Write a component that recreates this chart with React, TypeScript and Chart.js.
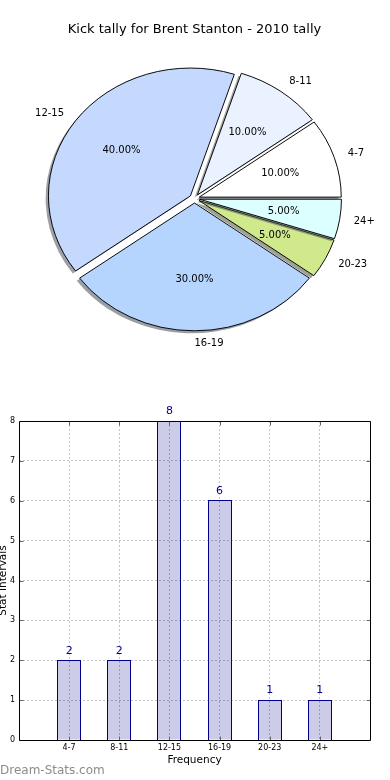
import React, { useEffect, useRef } from 'react';
import { Chart, registerables } from 'chart.js';

Chart.register(...registerables);

const FONT = '"DejaVu Sans", sans-serif';

// ---------- data ----------
const TITLE = 'Kick tally for Brent Stanton - 2010 tally';
const CATEGORIES = ['4-7', '8-11', '12-15', '16-19', '20-23', '24+'];
const COUNTS = [2, 2, 8, 6, 1, 1];
const PIE_COLORS = ['#ffffff', '#eaf2ff', '#c5d9ff', '#b5d5ff', '#d0e98c', '#dcffff'];
const X_TITLE = 'Frequency';
const Y_TITLE = 'Stat Intervals';
const WATERMARK = 'Dream-Stats.com';
const BAR_X_RANGE = [0, 7];
const BAR_Y_RANGE = [0, 8];

// ---------- style constants ----------
const PIE_RADIUS = 142;
const PIE_SY = 0.9; // vertical squash (non-equal aspect)
const EXPLODE_PX = 5;
const SHADOW = 0.02;
const BAR_FILL = 'rgba(0,0,139,0.2)';
const BAR_EDGE = '#00008b';
const GRID = '#c4c4c4';

function shade(hex: string) {
  const n = parseInt(hex.slice(1), 16);
  const r = (n >> 16) & 255, g = (n >> 8) & 255, b = n & 255;
  return `rgba(${Math.round(r * 0.3)},${Math.round(g * 0.3)},${Math.round(b * 0.3)},0.5)`;
}

const pieDrawPlugin = {
  id: 'pieDraw',
  beforeDatasetsDraw(chart: any) {
    const ctx = chart.ctx;
    const arcs = chart.getDatasetMeta(0).data;
    if (!arcs.length) return false;
    const cx = arcs[0].x, cy = arcs[0].y;
    ctx.save();
    ctx.translate(cx, cy);
    ctx.scale(1, PIE_SY);
    ctx.translate(-cx, -cy);
    for (let i = arcs.length - 1; i >= 0; i--) {
      const arc = arcs[i];
      const { startAngle, endAngle, outerRadius, x, y } = arc;
      const mid = (startAngle + endAngle) / 2;
      const dx = Math.cos(mid) * EXPLODE_PX, dy = Math.sin(mid) * EXPLODE_PX;
      // shadow
      ctx.save();
      ctx.translate(dx - SHADOW * outerRadius, dy + SHADOW * outerRadius);
      ctx.beginPath();
      ctx.moveTo(x, y);
      ctx.arc(x, y, outerRadius, startAngle, endAngle);
      ctx.closePath();
      ctx.fillStyle = shade(arc.options.backgroundColor);
      ctx.fill();
      ctx.restore();
      // wedge
      ctx.save();
      ctx.translate(dx, dy);
      arc.draw(ctx);
      ctx.restore();
    }
    ctx.restore();
    return false;
  },
  afterDraw(chart: any) {
    const ctx = chart.ctx;
    const arcs = chart.getDatasetMeta(0).data;
    const labels = chart.data.labels;
    const values = chart.data.datasets[0].data;
    const total = values.reduce((a: number, b: number) => a + b, 0);
    ctx.save();
    ctx.font = `10px ${FONT}`;
    ctx.fillStyle = '#000';
    ctx.textBaseline = 'middle';
    arcs.forEach((arc: any, i: number) => {
      const { startAngle, endAngle, outerRadius: R, x, y } = arc;
      const mid = (startAngle + endAngle) / 2;
      const c = Math.cos(mid), s = Math.sin(mid);
      const ex = x + c * EXPLODE_PX, ey = y + s * EXPLODE_PX * PIE_SY;
      ctx.textAlign = c >= -1e-6 ? 'left' : 'right';
      ctx.fillText(labels[i], ex + c * 1.1 * R, ey + s * 1.1 * R * PIE_SY);
      ctx.textAlign = 'center';
      ctx.fillText(((values[i] / total) * 100).toFixed(2) + '%', ex + c * 0.6 * R, ey + s * 0.6 * R * PIE_SY);
    });
    ctx.restore();
  },
};

const barDecorPlugin = {
  id: 'barDecor',
  afterDatasetsDraw(chart: any) {
    // crisp bar edges
    const ctx = chart.ctx;
    const meta = chart.getDatasetMeta(0);
    ctx.save();
    ctx.strokeStyle = BAR_EDGE;
    ctx.lineWidth = 1;
    meta.data.forEach((bar: any) => {
      const l = Math.floor(bar.x - bar.width / 2) + 0.5;
      const r = Math.ceil(bar.x + bar.width / 2) - 0.5;
      const t = Math.floor(bar.y) + 0.5;
      const b = Math.round(bar.base) + 0.5;
      ctx.strokeRect(l, t, r - l, b - t);
    });
    ctx.restore();
  },
  afterDraw(chart: any) {
    const ctx = chart.ctx;
    const { left, right, top, bottom } = chart.chartArea;
    const xs = chart.scales.x, ys = chart.scales.y;
    const L = Math.round(left) + 0.5, Rr = Math.round(right) + 0.5;
    const T = Math.round(top) + 0.5, B = Math.round(bottom) + 0.5;
    ctx.save();
    // inward ticks
    ctx.strokeStyle = '#666';
    ctx.lineWidth = 1;
    ctx.beginPath();
    for (let v = BAR_X_RANGE[0] + 1; v < BAR_X_RANGE[1]; v++) {
      const px = Math.round(xs.getPixelForValue(v)) + 0.5;
      ctx.moveTo(px, B); ctx.lineTo(px, B - 4);
      ctx.moveTo(px, T); ctx.lineTo(px, T + 4);
    }
    for (let v = BAR_Y_RANGE[0] + 1; v < BAR_Y_RANGE[1]; v++) {
      const py = Math.round(ys.getPixelForValue(v)) + 0.5;
      ctx.moveTo(L, py); ctx.lineTo(L + 4, py);
      ctx.moveTo(Rr, py); ctx.lineTo(Rr - 4, py);
    }
    ctx.stroke();
    // full frame
    ctx.strokeStyle = '#000';
    ctx.beginPath();
    ctx.rect(L, T, Rr - L, B - T);
    ctx.stroke();
    // value labels
    const meta = chart.getDatasetMeta(0);
    ctx.font = `11px ${FONT}`;
    ctx.fillStyle = BAR_EDGE;
    ctx.textAlign = 'center';
    ctx.textBaseline = 'middle';
    meta.data.forEach((bar: any, i: number) => {
      ctx.fillText(String(COUNTS[i]), bar.x, bar.y - 9.5);
    });
    ctx.restore();
  },
};

function pieConfig(): any {
  return {
    type: 'pie',
    data: {
      labels: [...CATEGORIES].reverse(),
      datasets: [{
        data: [...COUNTS].reverse(),
        backgroundColor: [...PIE_COLORS].reverse(),
        borderColor: '#000',
        borderWidth: 1,
        offset: 0,
        hoverOffset: 0,
      }],
    },
    options: {
      responsive: false,
      animation: false,
      events: [],
      rotation: 90,
      radius: PIE_RADIUS,
      layout: { padding: { left: 0, right: 1, top: 0, bottom: 30.6 } },
      plugins: {
        legend: { display: false },
        tooltip: { enabled: false },
        title: {
          display: true,
          text: TITLE,
          color: '#000',
          font: { family: FONT, size: 13, weight: 'normal' },
          padding: { top: 22, bottom: 0 },
        },
      },
    },
    plugins: [pieDrawPlugin],
  };
}

function barConfig(): any {
  const tickFont = { family: FONT, size: 8 };
  return {
    type: 'bar',
    data: {
      datasets: [{
        data: COUNTS.map((v, i) => ({ x: i + 1, y: v })),
        backgroundColor: BAR_FILL,
        borderWidth: 0,
        barPercentage: 0.46,
        categoryPercentage: 1,
      }],
    },
    options: {
      responsive: false,
      animation: false,
      events: [],
      layout: { padding: { top: 31, right: 20, left: 0, bottom: 0 } },
      plugins: {
        legend: { display: false },
        tooltip: { enabled: false },
      },
      scales: {
        x: {
          type: 'linear',
          min: BAR_X_RANGE[0],
          max: BAR_X_RANGE[1],
          offset: false,
          afterFit: (s: any) => { s.height = 40; },
          ticks: {
            stepSize: 1,
            autoSkip: false,
            maxRotation: 0,
            padding: 3,
            color: '#000',
            font: tickFont,
            callback: (v: number) => (Number.isInteger(v) && v >= 1 && v <= CATEGORIES.length ? CATEGORIES[v - 1] : ''),
          },
          grid: { color: GRID, drawTicks: false, offset: false, borderDash: [2, 2] },
          border: { display: false, dash: [2, 2] },
          title: {
            display: true,
            text: X_TITLE,
            color: '#000',
            font: { family: FONT, size: 10.5 },
            padding: { top: 0, bottom: 13.7 },
          },
        },
        y: {
          min: BAR_Y_RANGE[0],
          max: BAR_Y_RANGE[1],
          afterFit: (s: any) => { s.width = 23; },
          ticks: { stepSize: 1, padding: 4, color: '#000', font: tickFont },
          grid: { color: GRID, drawTicks: false, borderDash: [2, 2] },
          border: { display: false, dash: [2, 2] },
          title: {
            display: true,
            text: Y_TITLE,
            color: '#000',
            font: { family: FONT, size: 10.5 },
            padding: { top: 1, bottom: 0 },
          },
        },
      },
    },
    plugins: [barDecorPlugin],
  };
}

export default function App() {
  const pieRef = useRef<HTMLCanvasElement>(null);
  const barRef = useRef<HTMLCanvasElement>(null);
  useEffect(() => {
    const pie = new Chart(pieRef.current as HTMLCanvasElement, pieConfig());
    const bar = new Chart(barRef.current as HTMLCanvasElement, barConfig());
    return () => {
      pie.destroy();
      bar.destroy();
    };
  }, []);
  return (
    <div style={{ position: 'fixed', left: 0, top: 0, width: 390, height: 780, overflow: 'hidden', background: '#fff' }}>
      <canvas ref={pieRef} width={390} height={390} style={{ position: 'absolute', left: 0, top: 0, width: 390, height: 390 }} />
      <canvas ref={barRef} width={394} height={390} style={{ position: 'absolute', left: -4, top: 390, width: 394, height: 390 }} />
      <div style={{ position: 'absolute', left: 0, top: 763, font: `12px ${FONT}`, lineHeight: '14px', color: '#8c8c8c', whiteSpace: 'nowrap' }}>
        {WATERMARK}
      </div>
    </div>
  );
}
